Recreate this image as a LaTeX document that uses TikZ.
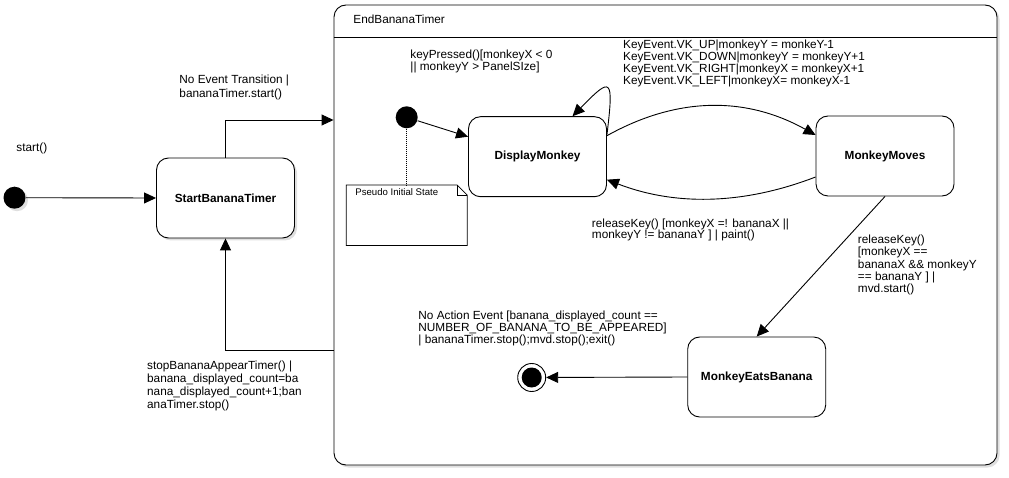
\documentclass[tikz,border=0pt]{standalone}
\usepackage{fontspec}
\setmainfont{Liberation Sans}
\usetikzlibrary{arrows.meta,shadows}
\newcommand\boxW{138pt}
\newcommand\boxH{80pt}
\newcommand\cornerR{12pt}
\newcommand\portShift{115pt}
\newcommand\initSize{22pt}

\begin{document}
\begin{tikzpicture}[x=1pt,y=-1pt,line width=0.9pt,
    >={Triangle[length=12pt,width=11pt]},
    every node/.style={font=\fontsize{11.8}{12}\selectfont},
    shadowed/.style={drop shadow={shadow xshift=2.5pt,shadow yshift=-2.5pt,opacity=0.25}},
    state/.style={draw,fill=white,rounded corners=\cornerR,minimum width=\boxW,minimum height=\boxH,font=\fontsize{11.8}{12}\selectfont\bfseries},
    container/.style={draw,fill=white,rounded corners=\cornerR,minimum width=663pt,minimum height=460pt,shadowed},
    initial/.style={circle,fill=black,inner sep=0pt,minimum size=\initSize},
    final/.style={circle,draw,fill=white,inner sep=0pt,minimum size=28pt,
      path picture={\fill[black] (path picture bounding box.center) circle (10pt);}},
    lbl/.style={anchor=north west,align=left,inner sep=0pt},
    wide/.style={font=\fontsize{11.8}{13.3}\selectfont}]
    \useasboundingbox (0,0) rectangle (1009,478);

    \node[container] (endTimer) at (665.5,235) {};
    \coordinate (headerY) at (0,37.5);
    \draw (endTimer.west |- headerY) -- (endTimer.east |- headerY);
    \node[lbl] (endTimerTitle) at (353,15) {EndBananaTimer};

    \node[initial,shadowed] (startInit) at (14.5,197.7) {};
    \node[state,shadowed] (startTimer) at (225.5,198) {StartBananaTimer};

    \foreach \stateName/\stateX/\stateY/\stateText in {displayMonkey/537.5/156.7/DisplayMonkey,
      monkeyMoves/885/156/MonkeyMoves,monkeyEatsBanana/756.7/377/MonkeyEatsBanana}{
      \node[state] (\stateName) at (\stateX,\stateY) {\stateText};
    }

    \node[initial] (pseudoInit) at (406.7,117.3) {};
    \node[minimum width=120pt,minimum height=59.5pt,inner sep=0pt] (pseudoNote) at (406.7,215.3) {};
    \draw[line width=0.7pt] (pseudoNote.north west) -- ([xshift=-10pt]pseudoNote.north east) -- ([yshift=-10pt]pseudoNote.north east)
      -- (pseudoNote.south east) -- (pseudoNote.south west) -- cycle;
    \draw[line width=0.7pt] ([xshift=-10pt]pseudoNote.north east) -- ([xshift=-10pt,yshift=-10pt]pseudoNote.north east) -- ([yshift=-10pt]pseudoNote.north east);
    \node[lbl,font=\fontsize{9.6}{10}\selectfont] (pseudoNoteText) at (355,188) {Pseudo Initial State};

    \node[final] (finalState) at (531.7,377.5) {};

    \draw[->] (startInit) -- (startTimer.west);
    \draw[->] (startTimer.north) |- ([yshift=\portShift]endTimer.west);
    \draw[->] ([yshift=-\portShift]endTimer.west) -| (startTimer.south);
    \draw[->] (pseudoInit) -- ([yshift=20pt]displayMonkey.west);
    \draw[dash pattern=on 1pt off 1pt,line width=0.5pt] (pseudoInit) -- (pseudoInit |- pseudoNote.north);
    \draw[->] ([yshift=22pt]displayMonkey.east) .. controls +(7,-58) and +(39,-40) .. ([xshift=35pt]displayMonkey.north);
    \draw[->] ([yshift=21pt]displayMonkey.east) .. controls +(70,-39) and +(-70,-39) .. ([yshift=21pt]monkeyMoves.west);
    \draw[->] ([yshift=-21pt]monkeyMoves.west) .. controls +(-70,27) and +(70,27) .. ([yshift=-23pt]displayMonkey.east);
    \draw[->] (monkeyMoves.south) -- (monkeyEatsBanana.north);
    \draw[->] (monkeyEatsBanana.west) -- (finalState);

    \node[lbl] (lblStart) at (16,143) {start()};
    \node[lbl,wide] (lblNoEvent) at (179,75) {No Event Transition |\\bananaTimer.start()};
    \node[lbl,wide] (lblStop) at (146.7,360) {stopBananaAppearTimer() |\\banana\_displayed\_count=ba\\nana\_displayed\_count+1;ban\\anaTimer.stop()};
    \node[lbl] (lblKeyPressed) at (410,50) {keyPressed()[monkeyX < 0\\|| monkeyY > PanelSIze]};
    \node[lbl] (lblKeyEvent) at (622.7,39.5) {KeyEvent.VK\_UP|monkeyY = monkeY-1\\KeyEvent.VK\_DOWN|monkeyY = monkeyY+1\\KeyEvent.VK\_RIGHT|monkeyX = monkeyX+1\\KeyEvent.VK\_LEFT|monkeyX= monkeyX-1};
    \node[lbl] (lblRelease) at (591.5,218) {releaseKey() [monkeyX =! bananaX ||\\monkeyY != bananaY ] | paint()};
    \node[lbl] (lblReleaseEat) at (857.5,235) {releaseKey()\\{[}monkeyX ==\\bananaX \&\& monkeyY\\== bananaY ] |\\mvd.start()};
    \node[lbl] (lblNoAction) at (418,310.5) {No Action Event [banana\_displayed\_count ==\\NUMBER\_OF\_BANANA\_TO\_BE\_APPEARED]\\| bananaTimer.stop();mvd.stop();exit()};
\end{tikzpicture}
\end{document}
